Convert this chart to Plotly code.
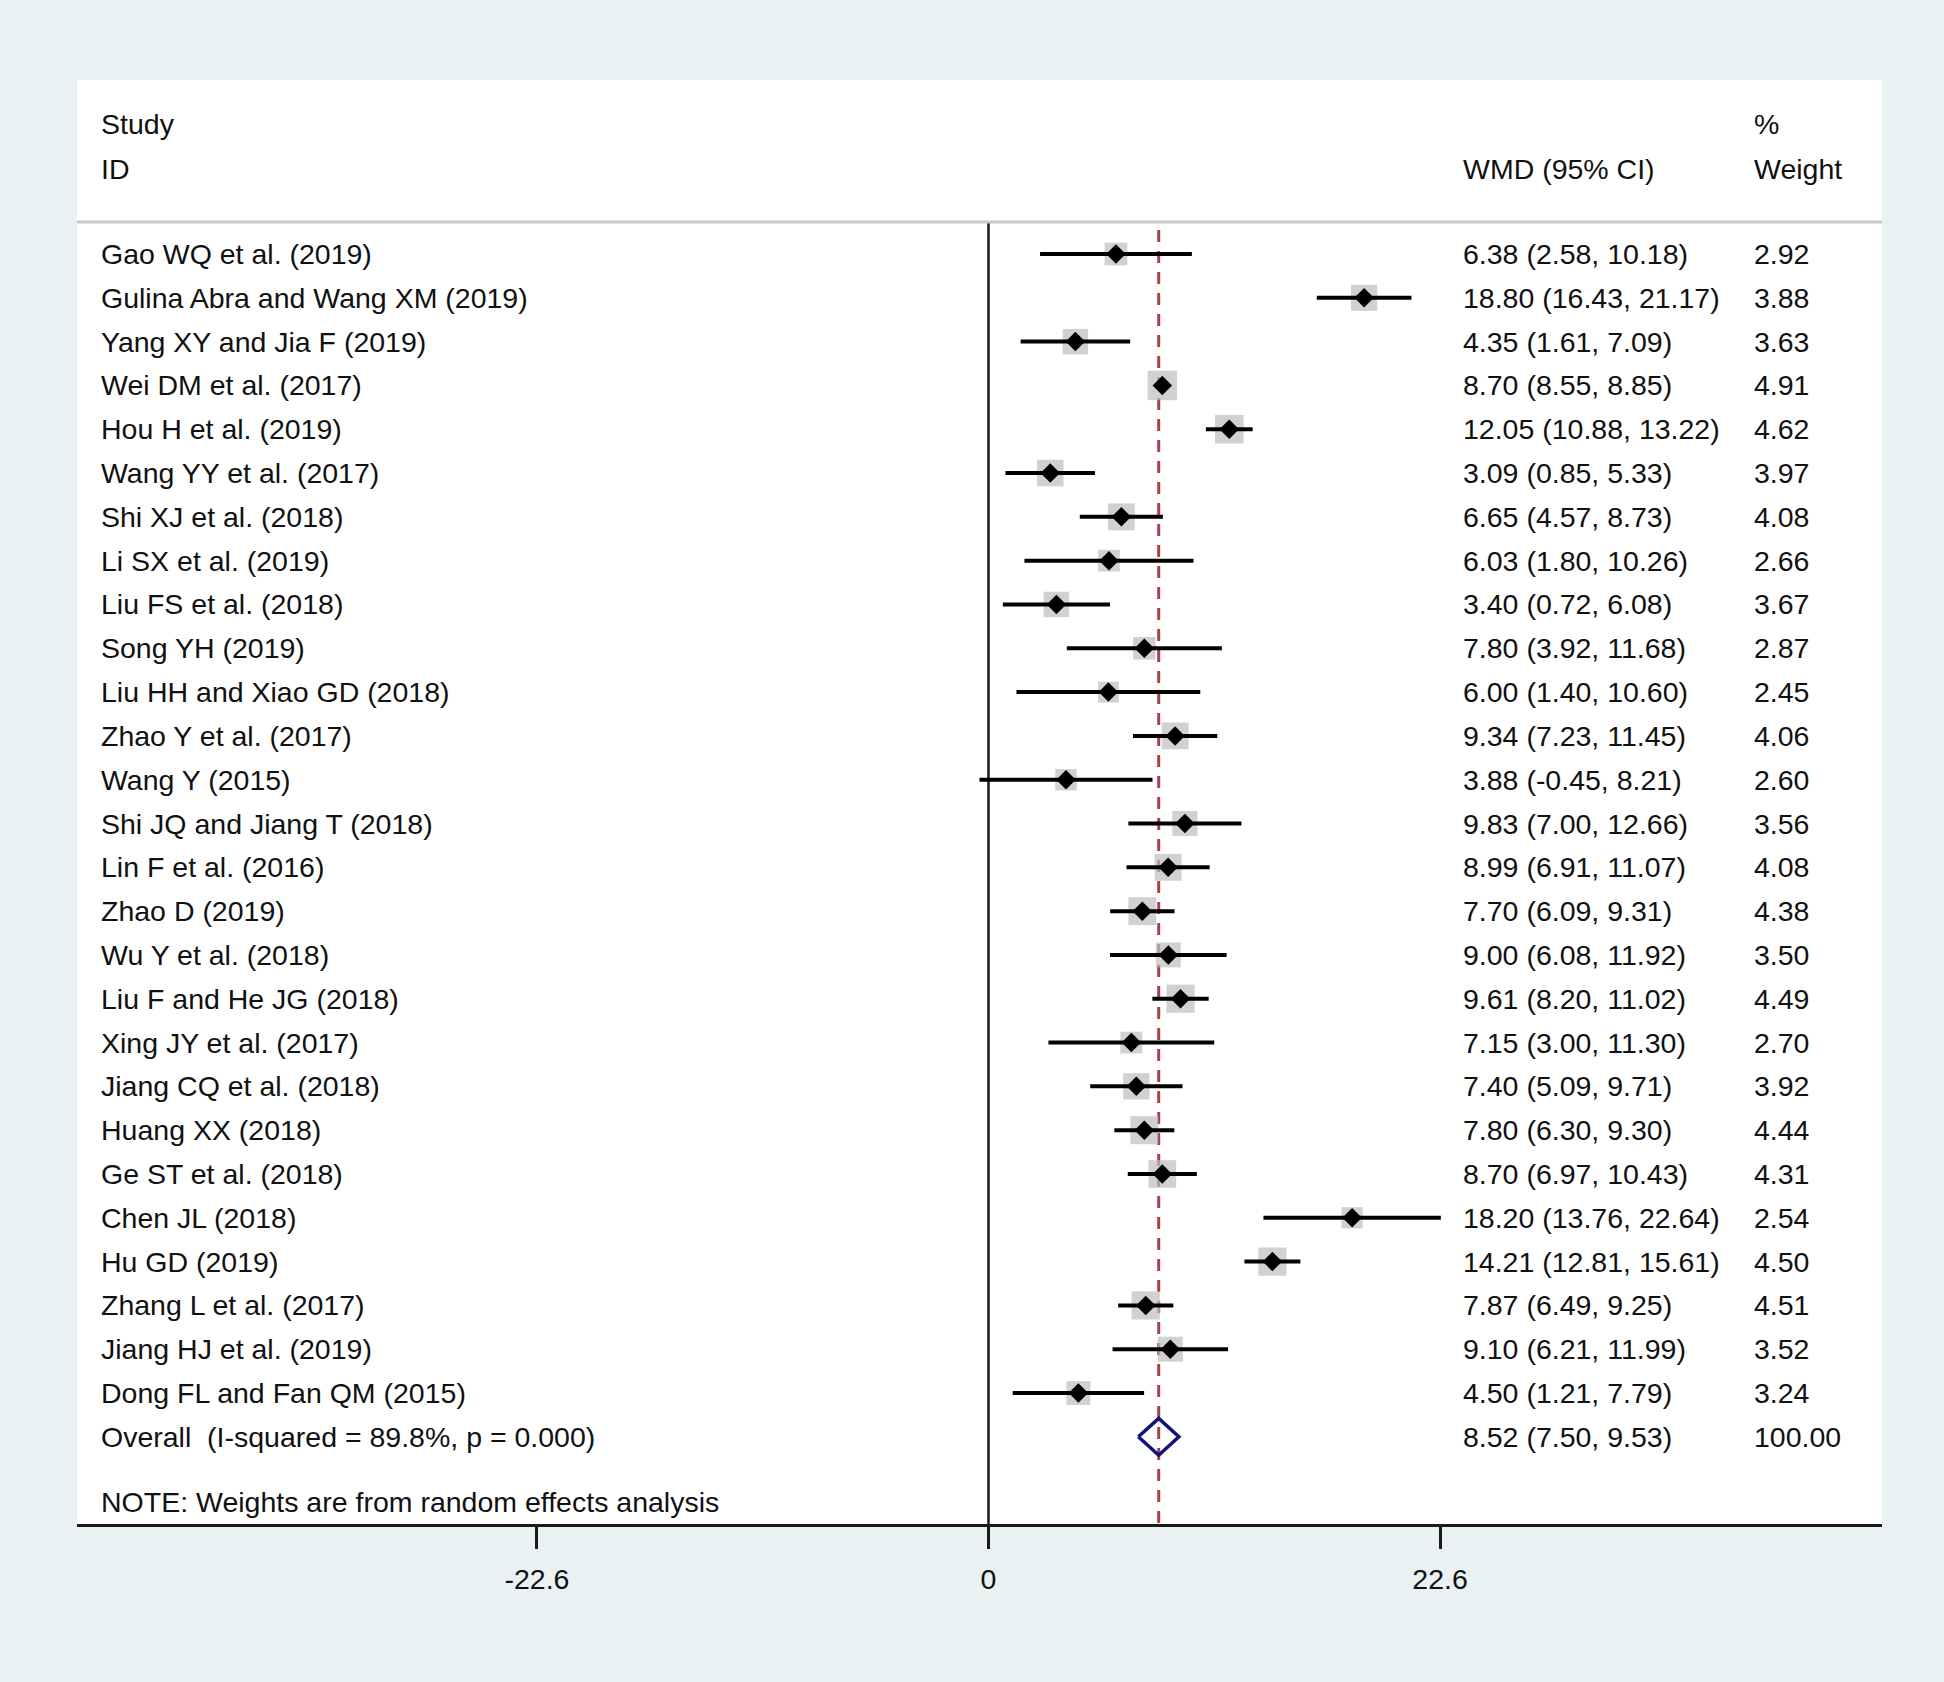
import math
import plotly.graph_objects as go

# ---------------- data ----------------
studies = [
    "Gao WQ et al. (2019)", "Gulina Abra and Wang XM (2019)", "Yang XY and Jia F (2019)",
    "Wei DM et al. (2017)", "Hou H et al. (2019)", "Wang YY et al. (2017)",
    "Shi XJ et al. (2018)", "Li SX et al. (2019)", "Liu FS et al. (2018)",
    "Song YH (2019)", "Liu HH and Xiao GD (2018)", "Zhao Y et al. (2017)",
    "Wang Y (2015)", "Shi JQ and Jiang T (2018)", "Lin F et al. (2016)",
    "Zhao D (2019)", "Wu Y et al. (2018)", "Liu F and He JG (2018)",
    "Xing JY et al. (2017)", "Jiang CQ et al. (2018)", "Huang XX (2018)",
    "Ge ST et al. (2018)", "Chen JL (2018)", "Hu GD (2019)",
    "Zhang L et al. (2017)", "Jiang HJ et al. (2019)", "Dong FL and Fan QM (2015)",
]
wmd = [6.38, 18.80, 4.35, 8.70, 12.05, 3.09, 6.65, 6.03, 3.40, 7.80, 6.00, 9.34, 3.88, 9.83,
       8.99, 7.70, 9.00, 9.61, 7.15, 7.40, 7.80, 8.70, 18.20, 14.21, 7.87, 9.10, 4.50]
ci_low = [2.58, 16.43, 1.61, 8.55, 10.88, 0.85, 4.57, 1.80, 0.72, 3.92, 1.40, 7.23, -0.45, 7.00,
          6.91, 6.09, 6.08, 8.20, 3.00, 5.09, 6.30, 6.97, 13.76, 12.81, 6.49, 6.21, 1.21]
ci_high = [10.18, 21.17, 7.09, 8.85, 13.22, 5.33, 8.73, 10.26, 6.08, 11.68, 10.60, 11.45, 8.21, 12.66,
           11.07, 9.31, 11.92, 11.02, 11.30, 9.71, 9.30, 10.43, 22.64, 15.61, 9.25, 11.99, 7.79]
weight = [2.92, 3.88, 3.63, 4.91, 4.62, 3.97, 4.08, 2.66, 3.67, 2.87, 2.45, 4.06, 2.60, 3.56,
          4.08, 4.38, 3.50, 4.49, 2.70, 3.92, 4.44, 4.31, 2.54, 4.50, 4.51, 3.52, 3.24]

overall_label = "Overall  (I-squared = 89.8%, p = 0.000)"
overall_wmd = 8.52
overall_low = 7.50
overall_high = 9.53
overall_weight = 100.00

tick_vals = [-22.6, 0, 22.6]
tick_text = ["-22.6", "0", "22.6"]

note_text = "NOTE: Weights are from random effects analysis"

# ---------------- style ----------------
FONT = "Liberation Sans, Arial, sans-serif"
FS = 28.5
TXT = "#111111"
BG = "#E9F1F3"

W, H = 1944, 1682
ML, MR, MT, MB = 77, 62, 80, 158
X_RANGE = [-45.62, 44.72]
Y_RANGE = [28.99, -3.972]

rows = list(range(len(studies)))
overall_row = len(studies)

fig = go.Figure()

# gray weight boxes
fig.add_trace(go.Scatter(
    x=wmd, y=rows, mode="markers",
    marker=dict(symbol="square", size=[13.3 * math.sqrt(w) for w in weight],
                color="#BDBDBD", line=dict(width=0)),
    hoverinfo="skip", showlegend=False))

# CI lines
cx, cy = [], []
for r, a, b in zip(rows, ci_low, ci_high):
    cx += [a, b, None]
    cy += [r, r, None]
fig.add_trace(go.Scatter(x=cx, y=cy, mode="lines",
                         line=dict(color="black", width=4),
                         hoverinfo="skip", showlegend=False))

# point estimates
fig.add_trace(go.Scatter(
    x=wmd, y=rows, mode="markers",
    marker=dict(symbol="diamond", size=15, color="black", line=dict(width=0)),
    hoverinfo="skip", showlegend=False))

# overall diamond
hh = 0.42
fig.add_trace(go.Scatter(
    x=[overall_low, overall_wmd, overall_high, overall_wmd, overall_low],
    y=[overall_row, overall_row - hh, overall_row, overall_row + hh, overall_row],
    mode="lines", line=dict(color="#12127A", width=3.5),
    hoverinfo="skip", showlegend=False))

# reference lines
header_line_y = -0.73
fig.add_shape(type="line", xref="x", yref="y", x0=0, x1=0, y0=header_line_y, y1=Y_RANGE[0],
              line=dict(color="#1a1a1a", width=2.5), layer="below")
fig.add_shape(type="line", xref="x", yref="y", x0=overall_wmd, x1=overall_wmd,
              y0=-0.55, y1=Y_RANGE[0],
              line=dict(color="#A8404A", width=3, dash="12px,9px"), layer="below")
fig.add_shape(type="line", xref="paper", yref="y", x0=0, x1=1, y0=header_line_y, y1=header_line_y,
              line=dict(color="#C8C8C8", width=3), layer="above")

# ---------------- text ----------------
X_STUDY = -44.5
X_CI = 23.65
X_W = 38.2

def txt(x, y, s):
    fig.add_annotation(x=x, y=y, xref="x", yref="y", text=s, showarrow=False,
                       xanchor="left", yanchor="middle",
                       font=dict(family=FONT, size=FS, color=TXT))

txt(X_STUDY, -2.967, "Study")
txt(X_STUDY, -1.94, "ID")
txt(X_CI, -1.94, "WMD (95% CI)")
txt(X_W, -2.967, "%")
txt(X_W, -1.94, "Weight")

for r, s, e, a, b, w in zip(rows, studies, wmd, ci_low, ci_high, weight):
    txt(X_STUDY, r, s)
    txt(X_CI, r, f"{e:.2f} ({a:.2f}, {b:.2f})")
    txt(X_W, r, f"{w:.2f}")

txt(X_STUDY, overall_row, overall_label)
txt(X_CI, overall_row, f"{overall_wmd:.2f} ({overall_low:.2f}, {overall_high:.2f})")
txt(X_W, overall_row, f"{overall_weight:.2f}")
txt(X_STUDY, 28.49, note_text)

fig.update_layout(
    width=W, height=H,
    margin=dict(l=ML, r=MR, t=MT, b=MB, pad=0),
    paper_bgcolor=BG, plot_bgcolor="white",
    showlegend=False,
    xaxis=dict(range=X_RANGE, tickvals=tick_vals, ticktext=tick_text,
               showgrid=False, zeroline=False,
               showline=True, linecolor="#1a1a1a", linewidth=3,
               ticks="outside", ticklen=22, tickwidth=2.5, tickcolor="#1a1a1a",
               ticklabelstandoff=6,
               tickfont=dict(family=FONT, size=FS, color=TXT), fixedrange=True),
    yaxis=dict(range=Y_RANGE, visible=False, showgrid=False, zeroline=False, fixedrange=True),
)

fig.write_html(
    "out.html",
    config={"displayModeBar": False},
    post_script="document.body.style.margin='0';document.body.style.background='%s';" % BG,
)
